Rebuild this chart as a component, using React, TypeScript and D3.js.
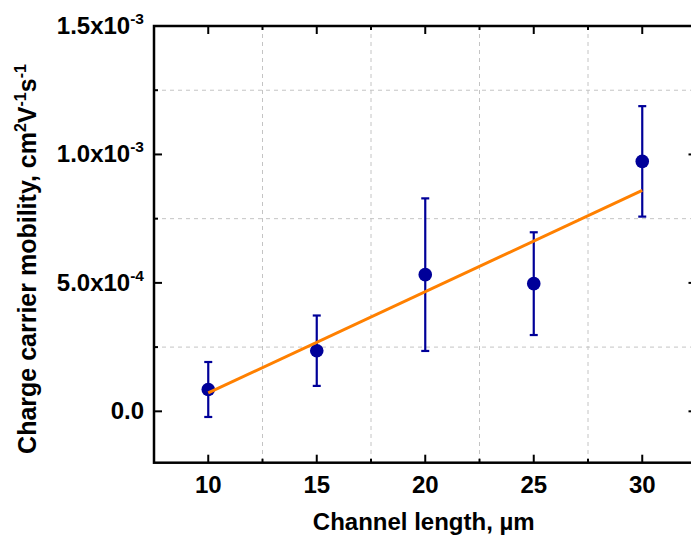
import React from "react";
import * as d3 from "d3";

const channelLength = [10, 15, 20, 25, 30];
const mobility = [0.085e-3, 0.236e-3, 0.532e-3, 0.497e-3, 0.973e-3];
const mobilityErr = [0.107e-3, 0.137e-3, 0.297e-3, 0.2e-3, 0.215e-3];
const fitX = [10, 30];
const fitY = [0.0716e-3, 0.86e-3];
const xMajorTicks = [10, 15, 20, 25, 30];
const xMinorTicks = [12.5, 17.5, 22.5, 27.5];
const yMajorTicks = [0, 0.5e-3, 1.0e-3, 1.5e-3];
const yMajorLabels = [
  { base: "0.0", exp: "" },
  { base: "5.0x10", exp: "-4" },
  { base: "1.0x10", exp: "-3" },
  { base: "1.5x10", exp: "-3" },
];
const yMinorTicks = [0.25e-3, 0.75e-3, 1.25e-3];
const xTitle = "Channel length, µm";

const W = 691;
const H = 542;
const FONT = "'Liberation Sans', Arial, sans-serif";

export default function App() {
  const left = 154;
  const right = 696.5;
  const top = 26;
  const bottom = 462.7;
  const x = d3.scaleLinear().domain([7.5, 32.5]).range([left, right]);
  const y = d3.scaleLinear().domain([-0.2e-3, 1.5e-3]).range([bottom, top]);
  const fitLine = d3
    .line<number>()
    .x((_, i) => x(fitX[i]))
    .y((d) => y(d));
  const blue = "#000099";
  const orange = "#FF8000";
  const grid = "#c4c4c4";
  const fs = 24;
  const sup = 15.5;

  return (
    <svg
      width={W}
      height={H}
      style={{ position: "absolute", left: 0, top: 0, background: "#fff" }}
    >
      {/* gridlines */}
      {xMinorTicks.map((t) => (
        <line
          key={"gx" + t}
          x1={x(t)}
          x2={x(t)}
          y1={top}
          y2={bottom}
          stroke={grid}
          strokeWidth={1}
          strokeDasharray="4,4"
        />
      ))}
      {yMinorTicks.map((t) => (
        <line
          key={"gy" + t}
          x1={left}
          x2={right}
          y1={y(t)}
          y2={y(t)}
          stroke={grid}
          strokeWidth={1}
          strokeDasharray="4,4"
        />
      ))}
      {/* ticks */}
      {xMajorTicks.map((t) => (
        <g key={"xt" + t} stroke="#000" strokeWidth={2}>
          <line x1={x(t)} x2={x(t)} y1={bottom} y2={bottom - 8} />
          <line x1={x(t)} x2={x(t)} y1={top} y2={top + 8} />
        </g>
      ))}
      {xMinorTicks.map((t) => (
        <g key={"xm" + t} stroke="#000" strokeWidth={2}>
          <line x1={x(t)} x2={x(t)} y1={bottom} y2={bottom - 4} />
          <line x1={x(t)} x2={x(t)} y1={top} y2={top + 4} />
        </g>
      ))}
      {yMajorTicks.map((t) => (
        <g key={"yt" + t} stroke="#000" strokeWidth={2}>
          <line x1={left} x2={left + 8} y1={y(t)} y2={y(t)} />
          <line x1={right} x2={right - 8} y1={y(t)} y2={y(t)} />
        </g>
      ))}
      {yMinorTicks.map((t) => (
        <g key={"ym" + t} stroke="#000" strokeWidth={2}>
          <line x1={left} x2={left + 4} y1={y(t)} y2={y(t)} />
          <line x1={right} x2={right - 4} y1={y(t)} y2={y(t)} />
        </g>
      ))}
      {/* frame */}
      <rect
        x={left}
        y={top}
        width={right - left}
        height={bottom - top}
        fill="none"
        stroke="#000"
        strokeWidth={2.5}
      />
      {/* x tick labels */}
      {xMajorTicks.map((t) => (
        <text
          key={"xl" + t}
          x={x(t)}
          y={492.7}
          textAnchor="middle"
          fontFamily={FONT}
          fontWeight="bold"
          fontSize={fs}
        >
          {t}
        </text>
      ))}
      {/* y tick labels */}
      {yMajorTicks.map((t, i) => (
        <text
          key={"yl" + t}
          x={144}
          y={y(t) + 8}
          textAnchor="end"
          fontFamily={FONT}
          fontWeight="bold"
          fontSize={fs}
        >
          {yMajorLabels[i].base}
          {yMajorLabels[i].exp && (
            <tspan fontSize={sup} dy={-10}>
              {yMajorLabels[i].exp}
            </tspan>
          )}
        </text>
      ))}
      {/* axis titles */}
      <text
        x={(left + right) / 2 - 1.5}
        y={530}
        textAnchor="middle"
        fontFamily={FONT}
        fontWeight="bold"
        fontSize={fs}
      >
        {xTitle}
      </text>
      <text
        transform={`translate(36, 259) rotate(-90)`}
        textAnchor="middle"
        fontFamily={FONT}
        fontWeight="bold"
        fontSize={25}
      >
        Charge carrier mobility, cm
        <tspan fontSize={16} dy={-10}>2</tspan>
        <tspan dy={10}>V</tspan>
        <tspan fontSize={16} dy={-10}>-1</tspan>
        <tspan dy={10}>s</tspan>
        <tspan fontSize={16} dy={-10}>-1</tspan>
      </text>
      {/* error bars */}
      {channelLength.map((c, i) => {
        const cx = x(c);
        const y1 = y(mobility[i] + mobilityErr[i]);
        const y2 = y(mobility[i] - mobilityErr[i]);
        return (
          <g key={"eb" + c} stroke={blue} strokeWidth={2.2}>
            <line x1={cx} x2={cx} y1={y1} y2={y2} />
            <line x1={cx - 4} x2={cx + 4} y1={y1} y2={y1} />
            <line x1={cx - 4} x2={cx + 4} y1={y2} y2={y2} />
          </g>
        );
      })}
      {/* markers */}
      {channelLength.map((c, i) => (
        <circle
          key={"pt" + c}
          cx={x(c)}
          cy={y(mobility[i])}
          r={6.8}
          fill={blue}
        />
      ))}
      {/* fit line */}
      <path
        d={fitLine(fitY) || ""}
        fill="none"
        stroke={orange}
        strokeWidth={3}
      />
    </svg>
  );
}
